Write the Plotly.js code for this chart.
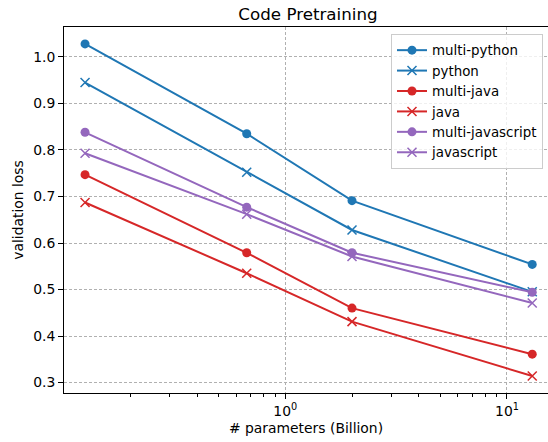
<!DOCTYPE html>
<html>
<head>
<meta charset="utf-8">
<script src="https://cdn.plot.ly/plotly-3.0.1.min.js"></script>
<style>html,body{margin:0;padding:0;background:#fff;overflow:hidden}</style>
</head>
<body>
<div id="chart" style="width:548px;height:442px"></div>
<script>
const params = [0.125, 0.67, 2, 13];
const multiPython = [1.028, 0.835, 0.691, 0.554];
const python = [0.945, 0.752, 0.628, 0.495];
const multiJava = [0.747, 0.579, 0.460, 0.361];
const java = [0.687, 0.535, 0.431, 0.314];
const multiJavascript = [0.838, 0.677, 0.579, 0.494];
const javascript = [0.793, 0.662, 0.571, 0.471];
const xTickVals = [1, 10];
const xTickText = ['10<sup>0</sup>', '10<sup>1</sup>'];

const blue = '#1f77b4', red = '#d62728', purple = '#9467bd';
function tr(name, y, color, sym) {
  const m = sym === 'circle'
    ? {symbol: 'circle', size: 9, color: color}
    : {symbol: 'x-thin', size: 9, color: color, line: {color: color, width: 1.5}};
  return {x: params, y: y, name: name, type: 'scatter', mode: 'lines+markers',
    line: {color: color, width: 2}, marker: m};
}
const data = [
  tr('multi-python', multiPython, blue, 'circle'),
  tr('python', python, blue, 'x'),
  tr('multi-java', multiJava, red, 'circle'),
  tr('java', java, red, 'x'),
  tr('multi-javascript', multiJavascript, purple, 'circle'),
  tr('javascript', javascript, purple, 'x')
];
const font = {family: 'DejaVu Sans', size: 13.9, color: '#000'};
const layout = {
  width: 548, height: 442,
  margin: {l: 64, r: 0, t: 27, b: 48.5},
  paper_bgcolor: '#fff', plot_bgcolor: '#fff',
  font: font,
  showlegend: true,
  title: {text: 'Code Pretraining', font: {family: 'DejaVu Sans', size: 16.7, color: '#000'},
    x: 0.562, xref: 'container', xanchor: 'center', y: 0.968, yref: 'container', yanchor: 'middle'},
  xaxis: {
    type: 'log', range: [-0.998, 1.185],
    tickmode: 'array', tickvals: xTickVals, ticktext: xTickText,
    ticks: 'outside', ticklen: 5, tickwidth: 1, tickcolor: '#000',
    showline: true, linecolor: '#000', linewidth: 1, mirror: true,
    showgrid: true, gridcolor: '#b0b0b0', gridwidth: 1, griddash: '3px,2px',
    zeroline: false,
    minor: {tickmode: 'array', tickvals: [0.2,0.3,0.4,0.5,0.6,0.7,0.8,0.9,2,3,4,5,6,7,8,9],
      ticks: 'outside', ticklen: 3, tickwidth: 1, tickcolor: '#000', showgrid: false},
    title: {text: '# parameters (Billion)', font: font, standoff: 5}
  },
  yaxis: {
    range: [0.2775, 1.0644],
    tickmode: 'array', tickvals: [0.3,0.4,0.5,0.6,0.7,0.8,0.9,1.0],
    ticktext: ['0.3','0.4','0.5','0.6','0.7','0.8','0.9','1.0'],
    ticks: 'outside', ticklen: 5, tickwidth: 1, tickcolor: '#000',
    showline: true, linecolor: '#000', linewidth: 1, mirror: false,
    showgrid: true, gridcolor: '#b0b0b0', gridwidth: 1, griddash: '3px,2px',
    zeroline: false,
    title: {text: 'validation loss', font: font, standoff: 6}
  },
  legend: {
    x: 0.6756, y: 0.981, xanchor: 'left', yanchor: 'top',
    bgcolor: 'rgba(255,255,255,0.8)', bordercolor: '#cccccc', borderwidth: 1,
    font: {family: 'DejaVu Sans', size: 13.4, color: '#000'}
  }
};
Plotly.newPlot('chart', data, layout, {displayModeBar: false, staticPlot: true});
</script>
</body>
</html>
